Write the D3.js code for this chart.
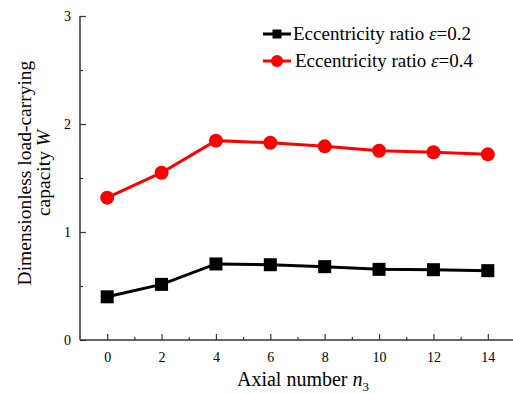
<!DOCTYPE html>
<html>
<head>
<meta charset="utf-8">
<script src="https://cdn.jsdelivr.net/npm/d3@7"></script>
<style>
  body { margin: 0; background: #fff; }
  svg text { font-family: "Liberation Serif", "Times New Roman", serif; fill: #000; }
</style>
</head>
<body>
<svg id="chart" width="513" height="394"></svg>
<script>
const axialNumbers = [0, 2, 4, 6, 8, 10, 12, 14];
const loadEcc02 = [0.40, 0.515, 0.704, 0.697, 0.679, 0.654, 0.651, 0.642];
const loadEcc04 = [1.318, 1.549, 1.846, 1.827, 1.793, 1.753, 1.738, 1.719];
const xTicks = [0, 2, 4, 6, 8, 10, 12, 14];
const yTicks = [0, 1, 2, 3];

const svg = d3.select("#chart");

const x = d3.scaleLinear().domain([-1, 15]).range([80, 515]);
const y = d3.scaleLinear().domain([0, 3]).range([340, 16]);

// axes: only left and bottom, ticks pointing inward
const xAxis = svg.append("g")
    .attr("transform", `translate(0,${y(0)})`)
    .call(d3.axisBottom(x).tickValues(xTicks).tickSize(-6).tickPadding(12).tickFormat(d3.format("d")));
const xMinor = svg.append("g")
    .attr("transform", `translate(0,${y(0)})`)
    .call(d3.axisBottom(x).tickValues(d3.range(1, 15, 2)).tickSize(-3).tickFormat(""));

const yAxis = svg.append("g")
    .attr("transform", `translate(${x(-1)},0)`)
    .call(d3.axisLeft(y).tickValues(yTicks).tickSize(-6).tickPadding(9).tickFormat(d3.format("d")));
const yMinor = svg.append("g")
    .attr("transform", `translate(${x(-1)},0)`)
    .call(d3.axisLeft(y).tickValues([0.5, 1.5, 2.5]).tickSize(-3).tickFormat(""));

[xAxis, xMinor, yAxis, yMinor].forEach(a => {
    a.select(".domain").attr("stroke", "#333").attr("stroke-width", 1.5);
    a.selectAll(".tick line").attr("stroke", "#333").attr("stroke-width", 1.2);
    a.selectAll("text").attr("font-size", 14).attr("font-family", "Liberation Serif");
});
// keep the domain paths flat (no outer ticks)
xAxis.select(".domain").attr("d", `M${x(-1)},0H${x(15)}`);
xMinor.select(".domain").remove();
yAxis.select(".domain").attr("d", `M0,${y(0)}V${y(3)}`);
yMinor.select(".domain").remove();

// axis titles
const xt = svg.append("text")
    .attr("x", 303).attr("y", 386)
    .attr("text-anchor", "middle")
    .attr("font-size", 20);
xt.append("tspan").text("Axial number ");
xt.append("tspan").attr("font-style", "italic").text("n");
xt.append("tspan").attr("font-size", 13).attr("dy", 5).text("3");

const yt = svg.append("text")
    .attr("transform", "translate(31,173) rotate(-90)")
    .attr("text-anchor", "middle")
    .attr("font-size", 19.5);
yt.append("tspan").attr("x", 0).attr("y", 0).text("Dimensionless load-carrying");
const yt2 = yt.append("tspan").attr("x", 0).attr("y", 18.5);
yt2.append("tspan").text("capacity ");
yt2.append("tspan").attr("font-style", "italic").text("W");

// series
const series = [
    { name: "0.2", values: loadEcc02, color: "#000", shape: "square" },
    { name: "0.4", values: loadEcc04, color: "#ff0000", shape: "circle" }
];

const line = d3.line().x(d => x(d[0])).y(d => y(d[1]));

series.forEach(s => {
    const pts = axialNumbers.map((n, i) => [n, s.values[i]]);
    svg.append("path")
        .datum(pts)
        .attr("fill", "none")
        .attr("stroke", s.color)
        .attr("stroke-width", 3)
        .attr("d", line);
    if (s.shape === "square") {
        svg.selectAll(null).data(pts).enter().append("rect")
            .attr("x", d => x(d[0]) - 6.5)
            .attr("y", d => y(d[1]) - 6.5)
            .attr("width", 13).attr("height", 13)
            .attr("fill", s.color);
    } else {
        svg.selectAll(null).data(pts).enter().append("circle")
            .attr("cx", d => x(d[0]))
            .attr("cy", d => y(d[1]))
            .attr("r", 7)
            .attr("fill", s.color);
    }
});

// legend
const legend = svg.append("g");
series.forEach((s, i) => {
    const ly = 34 + i * 27;
    const g = legend.append("g").attr("transform", `translate(263,${ly})`);
    g.append("line").attr("x1", 0).attr("x2", 28).attr("y1", 0).attr("y2", 0)
        .attr("stroke", s.color).attr("stroke-width", 3);
    if (s.shape === "square") {
        g.append("rect").attr("x", 9.5).attr("y", -4.5).attr("width", 9).attr("height", 9).attr("fill", s.color);
    } else {
        g.append("circle").attr("cx", 14).attr("cy", 0).attr("r", 6).attr("fill", s.color);
    }
    const t = g.append("text").attr("x", 30 + i * 2).attr("y", 6).attr("font-size", 19);
    t.append("tspan").text("Eccentricity ratio ");
    t.append("tspan").attr("font-style", "italic").text("ε");
    t.append("tspan").text("=" + s.name);
});
</script>
</body>
</html>
